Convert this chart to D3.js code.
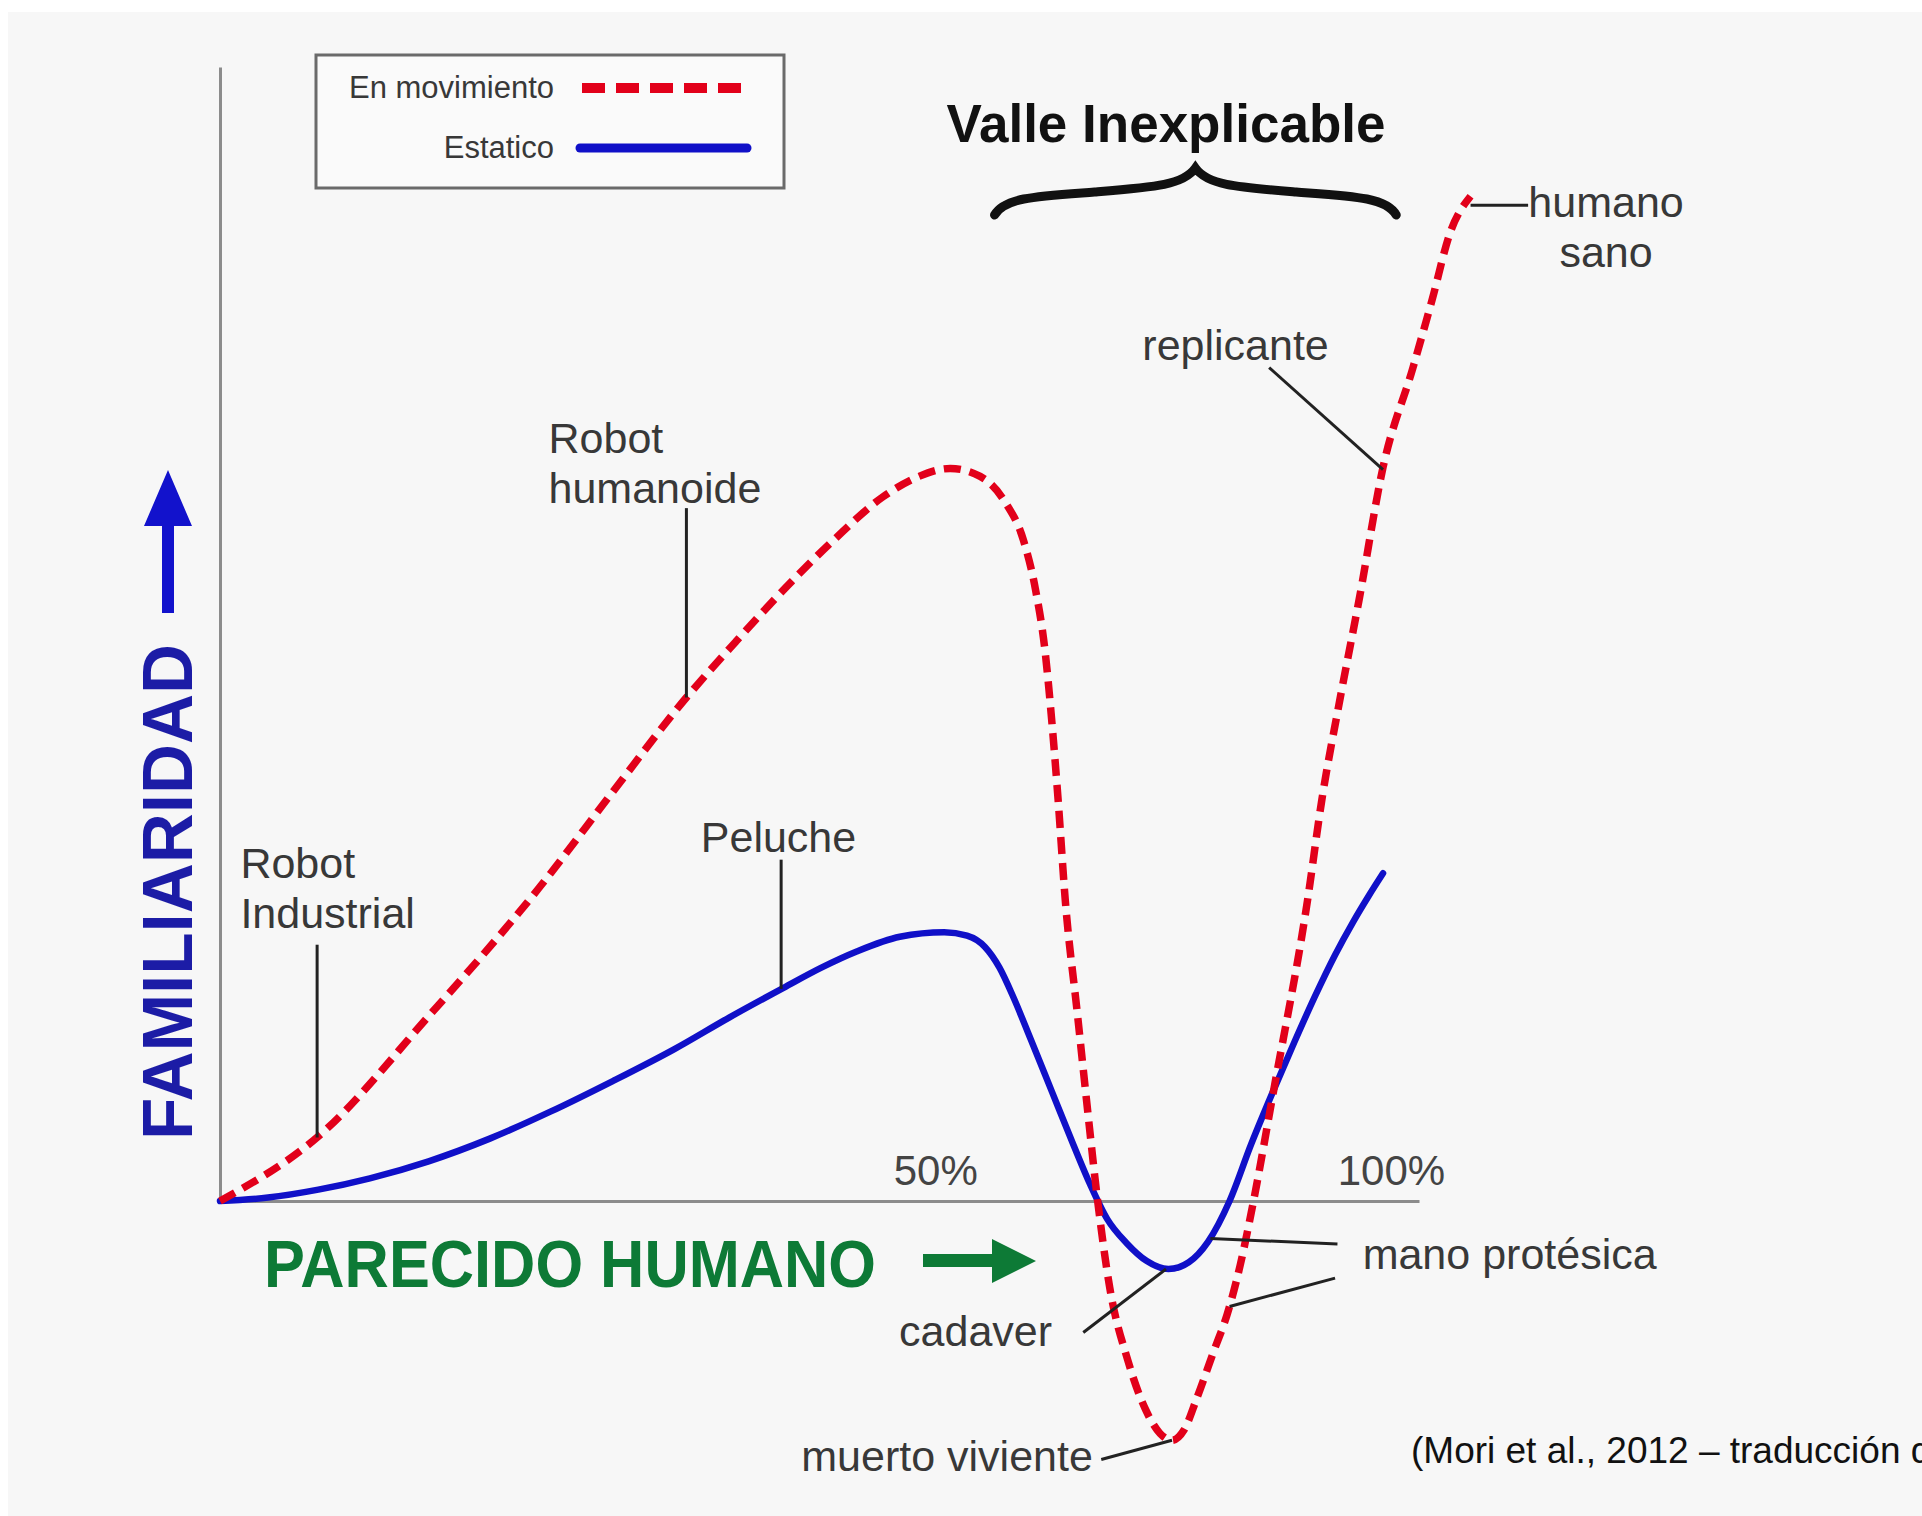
<!DOCTYPE html>
<html><head><meta charset="utf-8">
<script src="https://cdn.jsdelivr.net/npm/d3@7"></script>
<style>
html,body{margin:0;padding:0;background:#fff;}
svg{display:block;}
text{font-family:"Liberation Sans",Arial,Helvetica,sans-serif;}
</style></head><body>
<svg id="chart" width="1922" height="1516"></svg>
<script>
// ---------------- DATA ----------------
const seriesNames = ["En movimiento", "Estatico"];
// human likeness (%) and familiarity
const movingX = [0, 8.2, 17.4, 26.6, 32.7, 38.9, 43.0, 47.1, 51.2, 55.3, 58.3, 60.9, 63.4, 65.5, 67.0, 68.0, 68.8, 69.4, 69.9, 70.5, 71.5, 72.3, 73.2, 74.2, 75.7, 77.2, 78.4, 79.4, 80.4, 81.5, 82.9, 84.0, 85.1, 86.2, 87.8, 90.7, 91.9, 93.4, 95.0, 97.0, 99.5, 101.1, 102.6, 104.3];
const movingY = [0, 5.7, 16.3, 27.6, 36.0, 44.4, 49.3, 54.0, 58.3, 62.1, 63.9, 64.6, 63.9, 61.6, 58.3, 54.0, 48.6, 42.0, 35.4, 26.5, 16.6, 8.6, 0, -7.6, -14.0, -18.4, -20.5, -21.1, -20.2, -17.3, -13.2, -10.0, -5.6, 0, 9.3, 26.5, 35.4, 44.2, 53.0, 64.7, 73.5, 79.5, 85.4, 88.6];
const staticX = [0, 4, 8.2, 12.5, 17.4, 22.5, 27.6, 32.8, 37.9, 42.5, 47.0, 50.2, 53.1, 56.7, 60.4, 62.3, 63.8, 65.0, 66.2, 67.6, 69.4, 71.2, 72.6, 74.0, 75.6, 77.3, 79.1, 80.8, 82.4, 84.2, 86.0, 87.8, 89.6, 91.3, 93.0, 94.5, 95.8, 97.0];
const staticY = [0, 0.3, 1.0, 2.0, 3.5, 5.5, 7.9, 10.6, 13.4, 16.2, 18.8, 20.6, 22.0, 23.3, 23.7, 23.4, 22.4, 20.6, 17.9, 14.3, 9.6, 4.9, 1.4, -1.6, -3.7, -5.3, -6.0, -5.4, -3.6, 0, 5.0, 9.6, 14.0, 18.0, 21.7, 24.6, 26.9, 28.9];
const tickLabels = ["50%", "100%"];
const tickX = [59.7, 97.7];
const xTitle = "PARECIDO HUMANO";
const yTitle = "FAMILIARIDAD";
const chartTitle = "Valle Inexplicable";
const sourceNote = "(Mori et al., 2012 – traducción  de";
// annotation labels: lines, leader from [x,y] to [x,y], label point [x,y], anchor
const annLabels = [
  {lines:["Robot","Industrial"], from:[8.1,5.6], to:[8.1,22.6], at:[1.7,28.5], anchor:"start"},
  {lines:["Robot","humanoide"], from:[38.9,44.4], to:[38.9,61.1], at:[27.4,66.0], anchor:"start"},
  {lines:["Peluche"], from:[46.8,18.7], to:[46.8,30.1], at:[40.1,30.8], anchor:"start"},
  {lines:["replicante"], from:[97.0,64.5], to:[87.5,73.5], at:[84.7,74.2], anchor:"middle"},
  {lines:["humano","sano"], from:[104.3,87.8], to:[109.1,87.8], at:[115.6,86.8], anchor:"middle"},
  {lines:["mano protésica"], from:[82.6,-3.3], to:[93.2,-3.8], at:[95.3,-6.0], anchor:"start"},
  {lines:[], from:[84.2,-9.3], to:[93.0,-6.8], at:null, anchor:"start"},
  {lines:["cadaver"], from:[78.9,-6.0], to:[72.0,-11.6], at:[69.4,-12.8], anchor:"end"},
  {lines:["muerto viviente"], from:[79.4,-21.1], to:[73.5,-22.8], at:[72.8,-23.8], anchor:"end"}
];
const braceRange = [64.6, 98.1];

// ---------------- CHART ----------------
const svg = d3.select("#chart");
const W = 1922, H = 1516;
const x = d3.scaleLinear().domain([0, 100]).range([220, 1419]);
const y = d3.scaleLinear().domain([0, 100]).range([1201, 67]);

svg.append("rect").attr("width", W).attr("height", H).attr("fill", "#ffffff");
svg.append("rect").attr("x", 8).attr("y", 12).attr("width", W - 8).attr("height", H - 12).attr("fill", "#f7f7f7");

const RED = "#e2001a", BLUE = "#1010c8", GREEN = "#0d7a36", TXT = "#383838";

// axes
const yAxis = svg.append("g").attr("transform", `translate(${x(0)},0)`)
  .call(d3.axisLeft(y).tickValues([]).tickSizeOuter(0));
const xAxis = svg.append("g").attr("transform", `translate(0,${y(0)})`)
  .call(d3.axisBottom(x).tickValues([]).tickSizeOuter(0));
[xAxis, yAxis].forEach(a => a.select(".domain").attr("stroke", "#8c8c8c").attr("stroke-width", 3));

// tick labels
svg.selectAll("text.tick-lbl").data(tickLabels).enter().append("text")
  .attr("class", "tick-lbl")
  .attr("x", (d, i) => x(tickX[i])).attr("y", y(0) - 16)
  .attr("text-anchor", "middle").attr("font-size", 42).attr("fill", "#444")
  .text(d => d);

// curves
const line = d3.line().x(d => x(d[0])).y(d => y(d[1])).curve(d3.curveMonotoneX);
const movingPts = movingX.map((v, i) => [v, movingY[i]]);
const staticPts = staticX.map((v, i) => [v, staticY[i]]);

svg.append("path").datum(staticPts).attr("d", line)
  .attr("fill", "none").attr("stroke", BLUE).attr("stroke-width", 6.5).attr("stroke-linecap", "round");
svg.append("path").datum(movingPts).attr("d", line)
  .attr("fill", "none").attr("stroke", RED).attr("stroke-width", 7.5).attr("stroke-dasharray", "17,9");

// annotations
const ann = svg.append("g");
annLabels.forEach(a => {
  ann.append("line")
    .attr("x1", x(a.from[0])).attr("y1", y(a.from[1]))
    .attr("x2", x(a.to[0])).attr("y2", y(a.to[1]))
    .attr("stroke", "#222").attr("stroke-width", 3);
  if (a.at) {
    a.lines.forEach((t, i) => {
      ann.append("text")
        .attr("x", x(a.at[0])).attr("y", y(a.at[1]) + i * 50)
        .attr("text-anchor", a.anchor).attr("font-size", 43).attr("fill", TXT)
        .text(t);
    });
  }
});

// title + brace
svg.append("text").attr("x", 1166).attr("y", 142).attr("text-anchor", "middle")
  .attr("font-size", 53).attr("font-weight", "bold").attr("fill", "#111").text(chartTitle);
const bx1 = x(braceRange[0]), bx2 = x(braceRange[1]), bm = (bx1 + bx2) / 2;
const bEnd = 215, bFlat = 195, bTip = 168;
svg.append("path")
  .attr("d", `M${bx1},${bEnd} C${bx1 + 10},${bFlat + 2} ${bx1 + 45},${bFlat + 1} ${bx1 + 100},${bFlat - 3}
     C${bm - 40},${bFlat - 8} ${bm - 12},${bFlat - 10} ${bm},${bTip}
     C${bm + 12},${bFlat - 10} ${bm + 40},${bFlat - 8} ${bx2 - 100},${bFlat - 3}
     C${bx2 - 45},${bFlat + 1} ${bx2 - 10},${bFlat + 2} ${bx2},${bEnd}`)
  .attr("fill", "none").attr("stroke", "#111").attr("stroke-width", 9).attr("stroke-linecap", "round");

// legend
const lg = svg.append("g");
lg.append("rect").attr("x", 316).attr("y", 55).attr("width", 468).attr("height", 133)
  .attr("fill", "#fafafa").attr("stroke", "#6a6a6a").attr("stroke-width", 3);
lg.append("text").attr("x", 554).attr("y", 98).attr("text-anchor", "end")
  .attr("font-size", 31).attr("fill", TXT).text(seriesNames[0]);
lg.append("line").attr("x1", 582).attr("x2", 744).attr("y1", 88).attr("y2", 88)
  .attr("stroke", RED).attr("stroke-width", 10).attr("stroke-dasharray", "23,11");
lg.append("text").attr("x", 554).attr("y", 158).attr("text-anchor", "end")
  .attr("font-size", 31).attr("fill", TXT).text(seriesNames[1]);
lg.append("line").attr("x1", 580).attr("x2", 747).attr("y1", 148).attr("y2", 148)
  .attr("stroke", BLUE).attr("stroke-width", 9).attr("stroke-linecap", "round");

// x title + arrow
svg.append("text").attr("x", 264).attr("y", 1287).attr("font-size", 66).attr("font-weight", "bold")
  .attr("fill", GREEN).attr("textLength", 612).attr("lengthAdjust", "spacingAndGlyphs").text(xTitle);
svg.append("path")
  .attr("d", "M923,1254 L992,1254 L992,1239 L1036,1261 L992,1283 L992,1267 L923,1267 Z")
  .attr("fill", GREEN);

// y title + arrow
svg.append("text").attr("transform", "translate(192,1140) rotate(-90)")
  .attr("font-size", 70).attr("font-weight", "bold").attr("fill", "#1c1ca6")
  .attr("textLength", 496).attr("lengthAdjust", "spacingAndGlyphs").text(yTitle);
svg.append("path")
  .attr("d", "M162,613 L162,526 L144,526 L168,470 L192,526 L174,526 L174,613 Z")
  .attr("fill", "#1212cc");

// source note
svg.append("text").attr("x", 1411).attr("y", 1463).attr("font-size", 37)
  .attr("font-family", "Lato, 'Liberation Sans', sans-serif").attr("font-weight", 300)
  .attr("fill", "#111").text(sourceNote);
</script>
</body></html>
